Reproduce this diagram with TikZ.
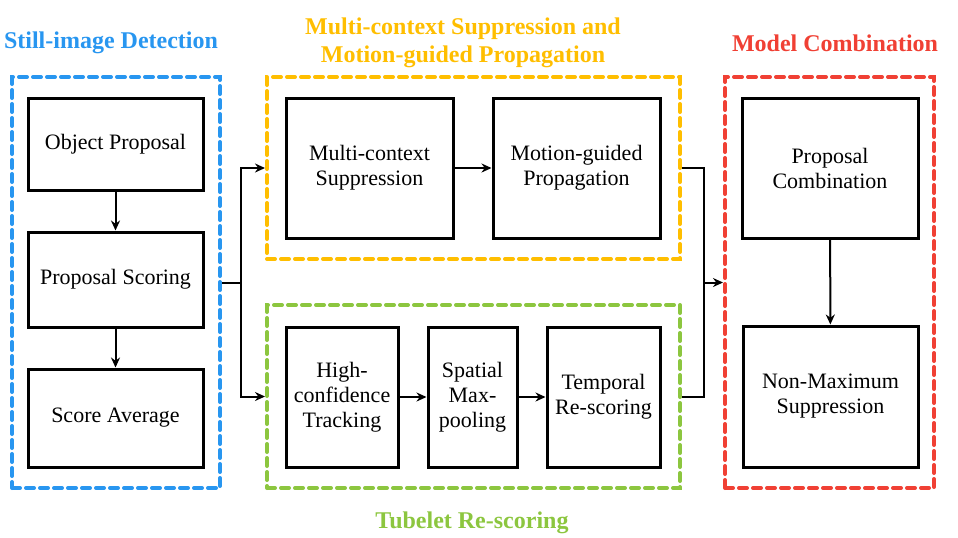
\documentclass[tikz,border=0pt]{standalone}
\usepackage{fontspec}
\newfontfamily\lserif{Liberation Serif}
\usetikzlibrary{arrows.meta}
\definecolor{cblue}{RGB}{40,150,240}
\definecolor{corange}{RGB}{255,190,0}
\definecolor{cgreen}{RGB}{140,198,63}
\definecolor{cred}{RGB}{240,64,52}
\tikzset{
  procbox/.style={draw=black, line width=1.5pt, fill=white, inner sep=0pt, align=center,
    font=\lserif\fontsize{11}{12.5}\selectfont},
  frame/.style={draw=#1, line width=2pt, dash pattern=on 4pt off 3pt, line cap=round, inner sep=0pt},
  arr/.style={draw=black, line width=1pt, -{Stealth[length=5pt,width=4.5pt]}},
  conn/.style={draw=black, line width=1pt},
  ttl/.style={font=\lserif\fontsize{12}{14}\selectfont\bfseries, align=center, text=#1}
}
\begin{document}
\begin{tikzpicture}[x=0.5pt,y=-0.5pt]
\useasboundingbox (0,0) rectangle (958,537);
% frames
\node[frame=cblue, minimum width=104pt, minimum height=205.5pt] (still) at (116,282.5) {};
\node[frame=corange, minimum width=206.5pt, minimum height=91pt] (orange) at (473.5,168) {};
\node[frame=cgreen, minimum width=206.5pt, minimum height=91.5pt] (green) at (473.5,396.5) {};
\node[frame=cred, minimum width=104.5pt, minimum height=205.5pt] (red) at (829.5,282.5) {};
% titles
\node[ttl=cblue] (t1) at (111,43) {Still-image Detection};
\node[ttl=corange] (t2) at (463,43) {Multi-context Suppression and\\Motion-guided Propagation};
\node[ttl=cred] (t3) at (835,43) {Model Combination};
\node[ttl=cgreen] (t4) at (472,523) {Tubelet Re-scoring};
% boxes
\node[procbox, minimum width=87.5pt, minimum height=46pt] (obj) at (115.5,144) {Object Proposal};
\node[procbox, minimum width=87.5pt, minimum height=47.5pt] (ps) at (115.5,279.5) {Proposal Scoring};
\node[procbox, minimum width=87.5pt, minimum height=49pt] (sa) at (115.5,418) {Score Average};
\node[procbox, minimum width=83.5pt, minimum height=70pt] (mcs) at (369.5,168) {Multi-context\\Suppression};
\node[procbox, minimum width=83.5pt, minimum height=70pt] (mgp) at (576.5,168) {Motion-guided\\Propagation};
\node[procbox, minimum width=56pt, minimum height=70pt] (hct) at (342,397) {High-\\confidence\\Tracking};
\node[procbox, minimum width=44.5pt, minimum height=70pt] (smp) at (472.5,397) {Spatial\\Max-\\pooling};
\node[procbox, minimum width=56.5pt, minimum height=70pt] (trs) at (603.5,397) {Temporal\\Re-scoring};
\node[procbox, minimum width=88pt, minimum height=70pt] (pc) at (830,168) {Proposal\\Combination};
\node[procbox, minimum width=87.5pt, minimum height=70.5pt] (nms) at (830.5,396.5) {Non-Maximum\\Suppression};
% connectors
\draw[arr] (obj) -- (ps);
\draw[arr] (ps) -- (sa);
\draw[arr] (mcs) -- (mgp);
\draw[arr] (hct) -- (smp);
\draw[arr] (smp) -- (trs);
\draw[arr] (pc) -- (nms);
\coordinate (split) at (241,282.5);
\coordinate (join) at (704,282.5);
\draw[conn] (still.east) -- (split);
\draw[arr] (split) |- (orange.west);
\draw[arr] (split) |- (green.west);
\draw[conn] (orange.east) -| (join);
\draw[conn] (green.east) -| (join);
\draw[arr] (join) -- (red.west);
\end{tikzpicture}
\end{document}
